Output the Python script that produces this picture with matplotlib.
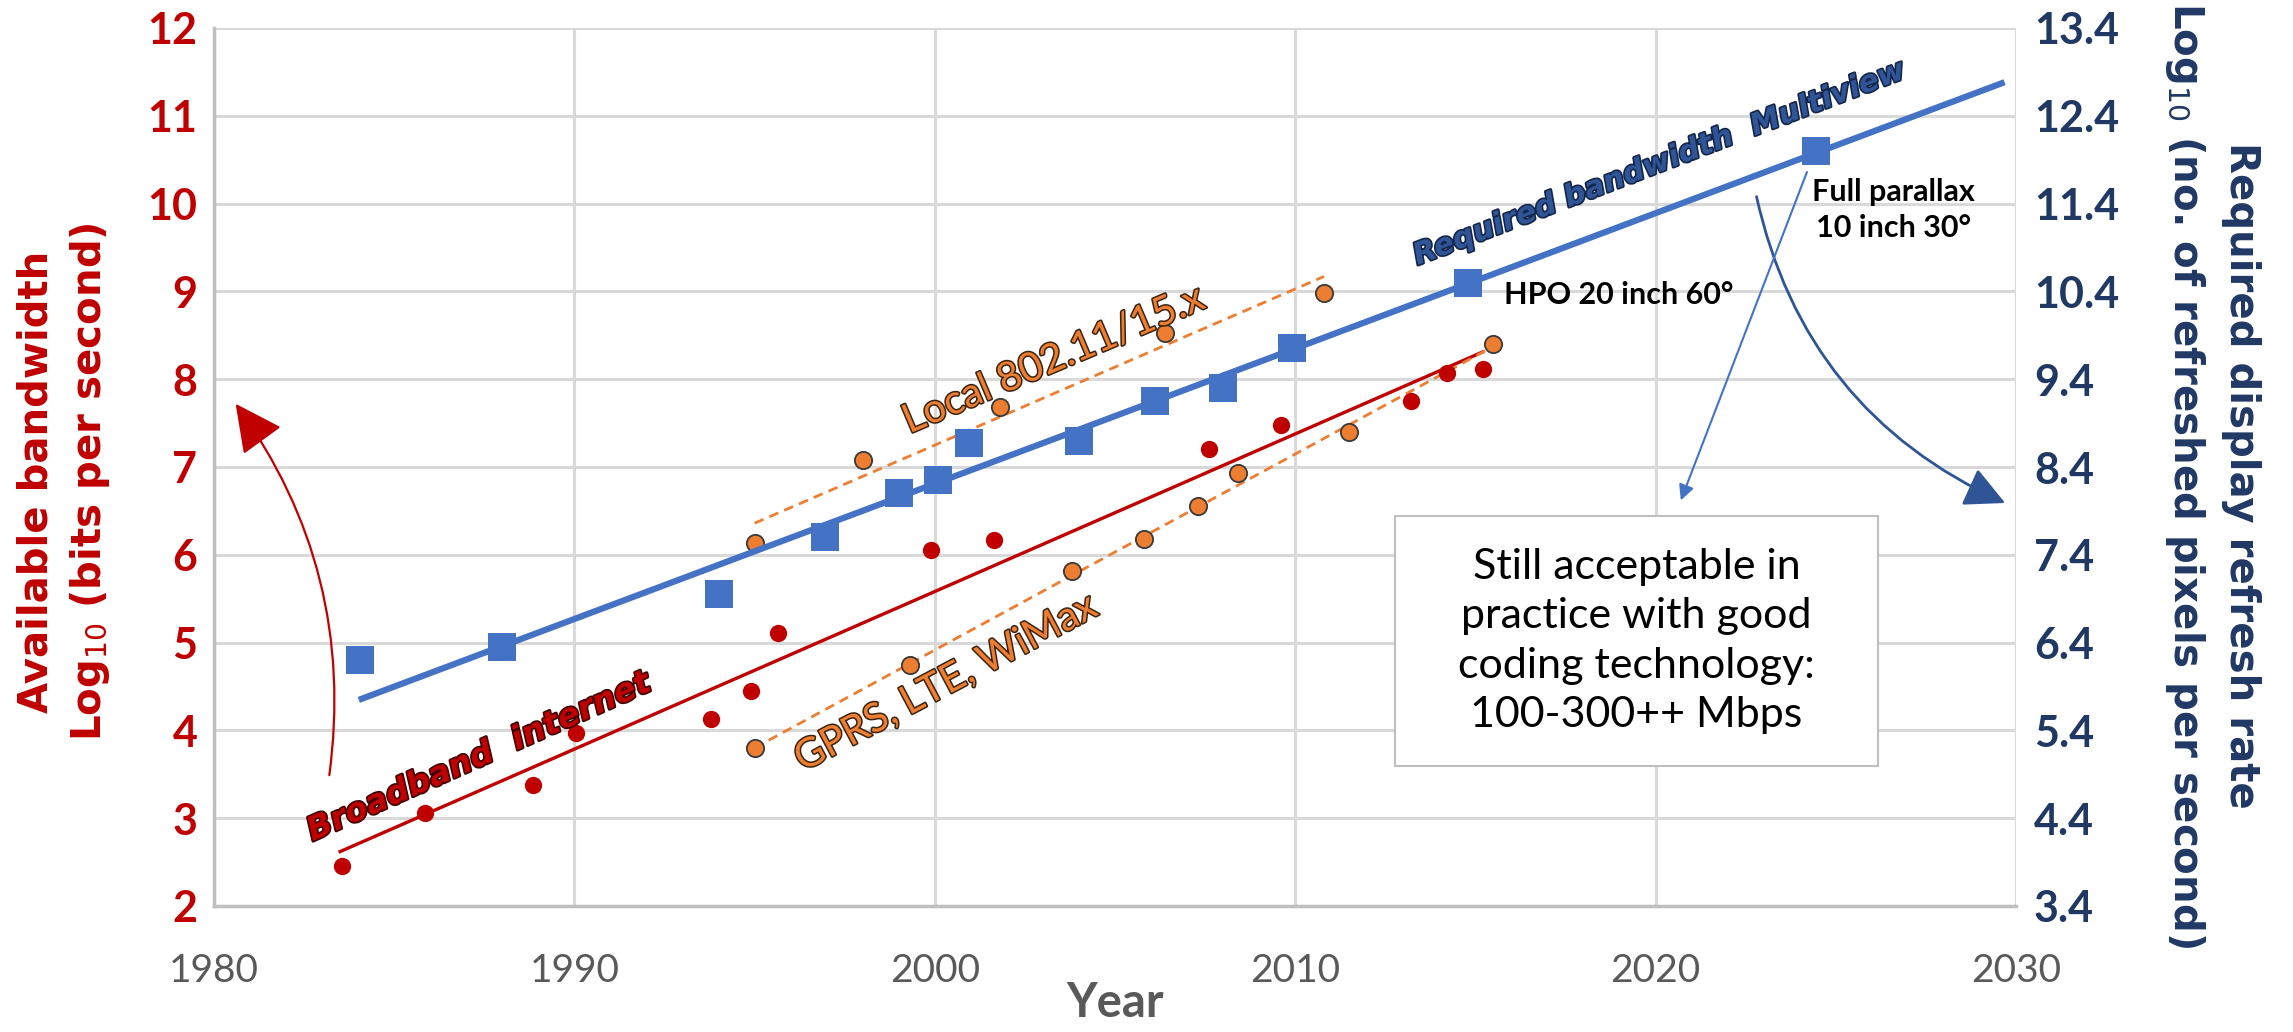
import matplotlib
matplotlib.use("Agg")
import matplotlib.pyplot as plt
import matplotlib.patheffects as pe
from matplotlib.patches import Rectangle

# --- data ---
# available bandwidth (left axis, log10 bits/s)
broadband_years = [1983.55, 1985.85, 1988.86, 1990.05, 1993.8, 1994.9, 1995.65,
                   1999.9, 2001.65, 2007.6, 2009.6, 2013.2, 2014.2, 2015.2]
broadband_vals = [2.46, 3.06, 3.38, 3.97, 4.13, 4.45, 5.11,
                  6.05, 6.17, 7.2, 7.48, 7.75, 8.07, 8.12]

wireless_years = [1995.0, 1995.0, 1998.0, 1999.3, 2001.8, 2003.8, 2005.8,
                  2006.4, 2007.3, 2008.4, 2010.8, 2011.5, 2015.5]
wireless_vals = [6.13, 3.80, 7.08, 4.74, 7.68, 5.82, 6.18,
                 8.53, 6.56, 6.93, 8.98, 7.40, 8.40]

# required display refresh rate (right axis, log10 pixels/s)
multiview_years = [1984.05, 1988.0, 1994.0, 1996.95, 1999.0, 2000.1, 2000.95,
                   2004.0, 2006.1, 2008.0, 2009.9, 2014.8, 2024.45]
multiview_vals = [6.2, 6.35, 6.95, 7.6, 8.1, 8.25, 8.67,
                  8.7, 9.15, 9.3, 9.75, 10.5, 12.0]

# trend lines (start/end)
multiview_trend_x = [1984.1, 2029.6]
multiview_trend_y = [5.76, 12.77]
broadband_trend_x = [1983.5, 2015.2]
broadband_trend_y = [2.62, 8.31]
local_trend_x = [1995.0, 2010.8]
local_trend_y = [6.36, 9.17]
cellular_trend_x = [1995.0, 2015.3]
cellular_trend_y = [3.80, 8.33]

left_ticks = list(range(2, 13))
right_ticks = [3.4 + i for i in range(11)]
year_ticks = [1980, 1990, 2000, 2010, 2020, 2030]

RED = "#C00000"
BLUE = "#4472C4"
NAVY = "#203864"
ORANGE = "#ED7D31"
GRAY = "#595959"

W, H = 2293, 1032
fig = plt.figure(figsize=(W / 100, H / 100), dpi=100)
ax = fig.add_axes([214 / W, 1 - 906 / H, (2016 - 214) / W, (906 - 28) / H])
ax.set_xlim(1980, 2030)
ax.set_ylim(2, 12)
ax.set_xticks(year_ticks)
ax.set_yticks(left_ticks)
ax.grid(True, color="#D9D9D9", lw=2.2)
ax.set_axisbelow(True)
for s in ["top", "right"]:
    ax.spines[s].set_visible(False)
for s in ["left", "bottom"]:
    ax.spines[s].set_color("#BFBFBF")
    ax.spines[s].set_linewidth(2.5)
ax.tick_params(axis="both", length=0)
ax.tick_params(axis="y", pad=12, labelcolor=RED)
ax.tick_params(axis="x", pad=34, labelcolor=GRAY)
for t in ax.get_yticklabels():
    t.set_fontfamily("Lato")
    t.set_fontweight("bold")
    t.set_fontsize(31)
for t in ax.get_xticklabels():
    t.set_fontfamily("Lato")
    t.set_fontsize(28)

ax.set_xlabel("Year", family="Lato", fontweight="bold", fontsize=34, color=GRAY)
ax.xaxis.set_label_coords(0.5, -0.085)

ax2 = ax.twinx()
ax2.set_ylim(3.4, 13.4)
ax2.set_yticks(right_ticks)
ax2.set_yticklabels([f"{v:.1f}" for v in right_ticks])
for s in ax2.spines.values():
    s.set_visible(False)
ax2.tick_params(axis="y", length=0, pad=13, labelcolor=NAVY)
for t in ax2.get_yticklabels():
    t.set_fontfamily("Lato")
    t.set_fontweight("bold")
    t.set_fontsize(31)

# series
ax.plot(broadband_trend_x, broadband_trend_y, color=RED, lw=2.4, zorder=3)
ax.plot(local_trend_x, local_trend_y, color=ORANGE, lw=2.0, ls=(0, (3.5, 2.3)), zorder=3)
ax.plot(cellular_trend_x, cellular_trend_y, color=ORANGE, lw=2.0, ls=(0, (3.5, 2.3)), zorder=3)
ax.scatter(broadband_years, broadband_vals, s=155, color=RED, zorder=4, linewidths=0)
ax.scatter(wireless_years, wireless_vals, s=155, color=ORANGE, edgecolors="#3a3a3a",
           linewidths=1.3, zorder=4)

ax2.plot(multiview_trend_x, multiview_trend_y, color=BLUE, lw=4.5, zorder=3)
ax2.scatter(multiview_years, multiview_vals, s=390, marker="s", color=BLUE,
            linewidths=0, zorder=4)

# rotated series labels with outlines
def outlined(dark, w=2.2):
    return [pe.Stroke(linewidth=w, foreground=dark), pe.Normal()]

ax.text(1987.35, 3.70, "Broadband  internet", rotation=24, rotation_mode="anchor",
        ha="center", va="center", fontsize=23.5, fontweight="bold", style="italic",
        color=RED, path_effects=outlined("#3d0000", 2.4), zorder=6)
ax.text(2003.3, 8.22, "Local 802.11/15.x", rotation=23, rotation_mode="anchor",
        ha="center", va="center", fontsize=29, family="Lato",
        color=ORANGE, path_effects=outlined("#3a2410", 2.2), zorder=6)
ax.text(2000.3, 4.54, "GPRS, LTE, WiMax", rotation=28, rotation_mode="anchor",
        ha="center", va="center", fontsize=29, family="Lato",
        color=ORANGE, path_effects=outlined("#3a2410", 2.2), zorder=6)
ax.text(2020.1, 10.46, "Required bandwidth  Multiview", rotation=21, rotation_mode="anchor",
        ha="center", va="center", fontsize=21.5, fontweight="bold", style="italic",
        color="#2F5597", path_effects=outlined("#15264a", 2.4), zorder=6)

ax.text(2015.8, 8.96, "HPO 20 inch 60°", ha="left", va="center", family="Lato",
        fontweight="bold", fontsize=22, color="black", zorder=6)
ax.text(2026.6, 9.93, "Full parallax\n10 inch 30°", ha="center", va="center",
        family="Lato", fontweight="bold", fontsize=22, color="black",
        linespacing=1.35, zorder=6)

# note box
ax.add_patch(Rectangle((2012.77, 3.60), 13.4, 2.84, facecolor="white",
                       edgecolor="#BFBFBF", lw=1.5, zorder=5))
ax.text(2019.47, 5.02, "Still acceptable in\npractice with good\ncoding technology:\n100-300++ Mbps",
        ha="center", va="center", family="Lato", fontsize=31, color="black",
        linespacing=1.37, zorder=6)

# arrows
ax.annotate("", xy=(1980.6, 7.72), xytext=(1983.2, 3.49),
            arrowprops=dict(arrowstyle="-|>", color=RED, lw=1.6, mutation_scale=75,
                            shrinkA=0, shrinkB=0, connectionstyle="arc3,rad=0.2"),
            zorder=6)
ax.annotate("", xy=(2029.7, 6.59), xytext=(2022.8, 10.08),
            arrowprops=dict(arrowstyle="-|>", color="#2F5597", lw=2.0, mutation_scale=62,
                            shrinkA=0, shrinkB=0, connectionstyle="arc3,rad=0.25"),
            zorder=6)
ax.annotate("", xy=(2020.7, 6.62), xytext=(2024.2, 10.36),
            arrowprops=dict(arrowstyle="-|>", color=BLUE, lw=1.5, mutation_scale=23,
                            shrinkA=0, shrinkB=0),
            zorder=6)

# axis titles
fig.text(64 / W, 1 - 482 / H, "Available bandwidth\nLog$_{10}$ (bits per second)",
         rotation=90, ha="center", va="center", multialignment="center",
         fontsize=29, fontweight="bold", color=RED, linespacing=1.35)
fig.text(2212 / W, 1 - 475 / H,
         "Required display refresh rate\nLog$_{10}$ (no. of refreshed pixels per second)",
         rotation=270, ha="center", va="center", multialignment="center",
         fontsize=29, fontweight="bold", color=NAVY, linespacing=1.45)

fig.savefig("out.png", dpi=100)
